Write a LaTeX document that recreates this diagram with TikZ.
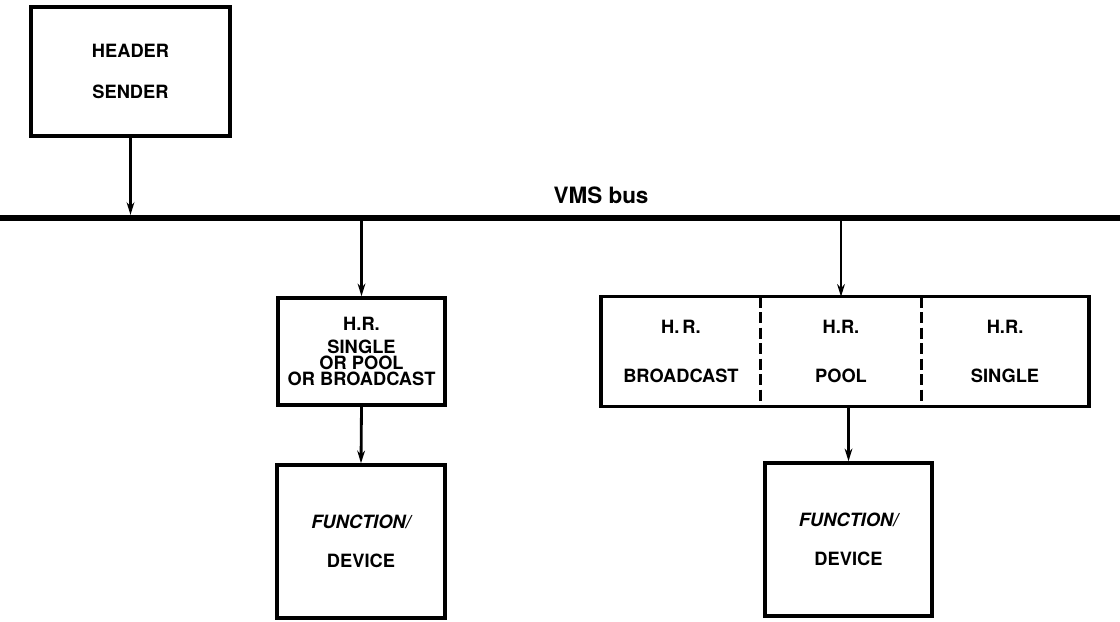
\documentclass[tikz,border=0pt]{standalone}
\usepackage{fontspec}
\setmainfont{TeX Gyre Heros}
\usetikzlibrary{positioning,arrows.meta}
\tikzset{
  boite/.style={draw, line width=2.5pt, align=center, inner sep=0pt, font=\fontsize{13}{11.7}\selectfont\bfseries},
  cellule/.style={align=center, inner sep=0pt, minimum height=2.725cm, font=\fontsize{13}{11.7}\selectfont\bfseries},
  fleche/.style={line width=2pt, -{Stealth[length=9pt,width=5.5pt]}},
  separation/.style={line width=2pt, dash pattern=on 8pt off 3pt},
}
\begin{document}
\begin{tikzpicture}
    \useasboundingbox (0,0) rectangle (28,15.525);

    % Bus VMS
    \coordinate (busG) at (0,10.075);
    \coordinate (busD) at (28,10.075);
    \draw[line width=4.3pt] (busG) -- (busD);
    \node[font=\fontsize{16}{19}\selectfont\bfseries, anchor=base] (lbus) at (15.025,10.43) {VMS bus};

    % Emetteur d'en-tete
    \node[boite, minimum width=4.975cm, minimum height=3.225cm] (hs) at (3.2625,13.7375) {HEADER\\[17.3pt]SENDER};
    \draw[fleche, shorten >=2.2pt] (hs.south) -- (hs.south |- busG);

    % Recepteur unique
    \node[boite, minimum width=4.175cm, minimum height=2.675cm] (hrA) at (9.0375,6.7375) {H.R.\\[4.6pt]SINGLE\\OR POOL\\OR BROADCAST};
    \node[boite, minimum width=4.2cm, minimum height=3.825cm] (fdA) at (9.025,1.9875) {{\itshape FUNCTION/}\\[15.9pt]DEVICE};
    \draw[fleche, shorten <=2.2pt] (hrA.north |- busG) -- (hrA.north);
    \draw[fleche] (hrA.south) -- (fdA.north);

    % Recepteur a trois cellules
    \node[cellule, minimum width=4cm] (hrP) at (21.025,6.7375) {H.R.\\[23.7pt]POOL};
    \node[cellule, minimum width=3.975cm, left=0pt of hrP] (hrB) {H.\,R.\\[23.7pt]BROADCAST};
    \node[cellule, minimum width=4.175cm, right=0pt of hrP] (hrS) {H.R.\\[23.7pt]SINGLE};
    \draw[line width=2.5pt] (hrB.north west) rectangle (hrS.south east);
    \draw[separation] (hrB.north east) -- (hrB.south east);
    \draw[separation] (hrS.north west) -- (hrS.south west);

    \node[boite, minimum width=4.175cm, minimum height=3.825cm] (fdB) at (21.2125,2.0375) {{\itshape FUNCTION/}\\[15.9pt]DEVICE};
    \draw[fleche, shorten <=2.2pt] (hrP.north |- busG) -- (hrP.north);
    \draw[fleche] (fdB.north |- hrP.south) -- (fdB.north);
\end{tikzpicture}
\end{document}
